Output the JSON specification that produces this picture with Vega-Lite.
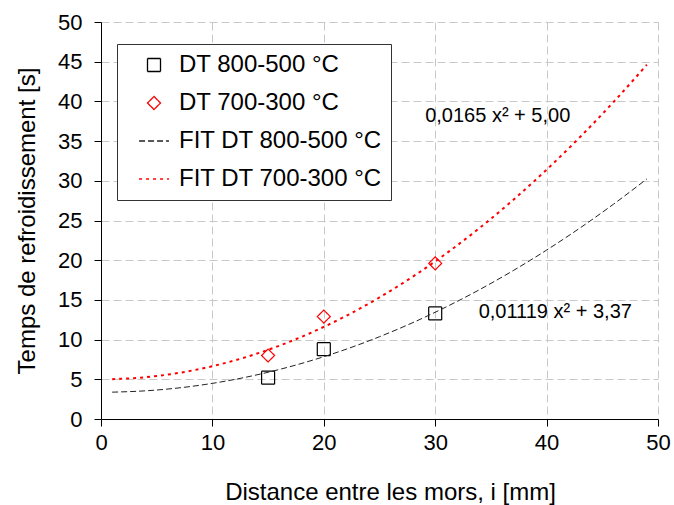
{
  "$schema": "https://vega.github.io/schema/vega-lite/v6.json",
  "width": 557,
  "height": 397,
  "autosize": {"type": "none"},
  "padding": {"left": 101, "top": 22, "right": 16, "bottom": 86},
  "background": "white",
  "config": {
    "font": "Liberation Sans",
    "view": {"stroke": null},
    "axis": {
      "domainColor": "black",
      "domainWidth": 1,
      "tickColor": "black",
      "tickSize": 7,
      "grid": true,
      "gridColor": "#c8c8c8",
      "gridDash": [8, 4],
      "gridWidth": 1,
      "labelFont": "Liberation Sans",
      "labelFontSize": 22,
      "labelColor": "black",
      "labelOverlap": false,
      "titleFont": "Liberation Sans",
      "titleFontSize": 24,
      "titleFontWeight": "normal",
      "titleColor": "black"
    },
    "legend": {
      "labelFont": "Liberation Sans",
      "labelFontSize": 24,
      "labelColor": "black",
      "labelLimit": 400
    }
  },
  "datasets": {
    "meas": [
      {"series": "DT 800-500 °C", "x": 15, "y": 5.2},
      {"series": "DT 800-500 °C", "x": 20, "y": 8.8},
      {"series": "DT 800-500 °C", "x": 30, "y": 13.3},
      {"series": "DT 700-300 °C", "x": 15, "y": 8.0},
      {"series": "DT 700-300 °C", "x": 20, "y": 12.9},
      {"series": "DT 700-300 °C", "x": 30, "y": 19.6}
    ],
    "fit": [
      {"series": "FIT DT 800-500 °C", "x": 1, "y": 3.381},
      {"series": "FIT DT 800-500 °C", "x": 4, "y": 3.549},
      {"series": "FIT DT 800-500 °C", "x": 7, "y": 3.918},
      {"series": "FIT DT 800-500 °C", "x": 10, "y": 4.489},
      {"series": "FIT DT 800-500 °C", "x": 13, "y": 5.261},
      {"series": "FIT DT 800-500 °C", "x": 16, "y": 6.235},
      {"series": "FIT DT 800-500 °C", "x": 19, "y": 7.41},
      {"series": "FIT DT 800-500 °C", "x": 22, "y": 8.786},
      {"series": "FIT DT 800-500 °C", "x": 25, "y": 10.364},
      {"series": "FIT DT 800-500 °C", "x": 28, "y": 12.143},
      {"series": "FIT DT 800-500 °C", "x": 31, "y": 14.124},
      {"series": "FIT DT 800-500 °C", "x": 34, "y": 16.306},
      {"series": "FIT DT 800-500 °C", "x": 37, "y": 18.689},
      {"series": "FIT DT 800-500 °C", "x": 40, "y": 21.274},
      {"series": "FIT DT 800-500 °C", "x": 43, "y": 24.06},
      {"series": "FIT DT 800-500 °C", "x": 46, "y": 27.048},
      {"series": "FIT DT 800-500 °C", "x": 49, "y": 30.237},
      {"series": "FIT DT 700-300 °C", "x": 1, "y": 5.017},
      {"series": "FIT DT 700-300 °C", "x": 4, "y": 5.264},
      {"series": "FIT DT 700-300 °C", "x": 7, "y": 5.809},
      {"series": "FIT DT 700-300 °C", "x": 10, "y": 6.65},
      {"series": "FIT DT 700-300 °C", "x": 13, "y": 7.789},
      {"series": "FIT DT 700-300 °C", "x": 16, "y": 9.224},
      {"series": "FIT DT 700-300 °C", "x": 19, "y": 10.957},
      {"series": "FIT DT 700-300 °C", "x": 22, "y": 12.986},
      {"series": "FIT DT 700-300 °C", "x": 25, "y": 15.313},
      {"series": "FIT DT 700-300 °C", "x": 28, "y": 17.936},
      {"series": "FIT DT 700-300 °C", "x": 31, "y": 20.857},
      {"series": "FIT DT 700-300 °C", "x": 34, "y": 24.074},
      {"series": "FIT DT 700-300 °C", "x": 37, "y": 27.589},
      {"series": "FIT DT 700-300 °C", "x": 40, "y": 31.4},
      {"series": "FIT DT 700-300 °C", "x": 43, "y": 35.509},
      {"series": "FIT DT 700-300 °C", "x": 46, "y": 39.914},
      {"series": "FIT DT 700-300 °C", "x": 49, "y": 44.617}
    ],
    "notes": [
      {"label": "0,0165 x² + 5,00", "x": 29.1, "y": 37.4},
      {"label": "0,01119 x² + 3,37", "x": 33.9, "y": 12.7}
    ]
  },
  "encoding": {
    "x": {
      "field": "x", "type": "quantitative",
      "scale": {"domain": [0, 50], "nice": false, "zero": false},
      "axis": {"tickCount": 5, "title": "Distance entre les mors, i [mm]", "labelPadding": 6, "titleX": 289, "titleY": 80, "titleBaseline": "alphabetic", "labelFlush": false}
    },
    "y": {
      "field": "y", "type": "quantitative",
      "scale": {"domain": [0, 50], "nice": false, "zero": false},
      "axis": {"tickCount": 10, "title": "Temps de refroidissement [s]", "labelPadding": 12, "titlePadding": 18, "labelFlush": false, "labelOverlap": false}
    }
  },
  "layer": [
    {
      "data": {"name": "meas"},
      "mark": {"type": "point", "filled": false, "size": 169, "strokeWidth": 1.2, "opacity": 1},
      "encoding": {
        "color": {
          "field": "series", "type": "nominal",
          "scale": {
            "domain": ["DT 800-500 °C", "DT 700-300 °C", "FIT DT 800-500 °C", "FIT DT 700-300 °C"],
            "range": ["#000000", "#ff0000", "#222222", "#ff0000"]
          },
          "legend": {
            "title": null,
            "orient": "none",
            "legendX": 16,
            "legendY": 22,
            "direction": "vertical",
            "padding": 9,
            "symbolOffset": 16,
            "labelOffset": 13,
            "rowPadding": 14,
            "strokeColor": "#333333",
            "fillColor": "white",
            "symbolFillColor": "transparent",
            "symbolStrokeWidth": 1.3,
            "symbolSize": 169
          }
        },
        "shape": {
          "field": "series", "type": "nominal",
          "scale": {
            "domain": ["DT 800-500 °C", "DT 700-300 °C", "FIT DT 800-500 °C", "FIT DT 700-300 °C"],
            "range": ["square", "diamond", "M-2.3,0H2.3", "M-2.3,0H2.3"]
          }
        },
        "strokeDash": {
          "field": "series", "type": "nominal",
          "scale": {
            "domain": ["DT 800-500 °C", "DT 700-300 °C", "FIT DT 800-500 °C", "FIT DT 700-300 °C"],
            "range": [[1, 0], [1, 0], [6, 3], [3, 4]]
          }
        }
      }
    },
    {
      "data": {"name": "fit"},
      "mark": {"type": "line", "interpolate": "monotone", "clip": false},
      "encoding": {
        "color": {"field": "series", "type": "nominal"},
        "strokeDash": {"field": "series", "type": "nominal"},
        "strokeWidth": {
          "condition": {"test": "datum.series === 'FIT DT 700-300 °C'", "value": 2},
          "value": 1
        }
      }
    },
    {
      "data": {"name": "notes"},
      "mark": {"type": "text", "align": "left", "baseline": "alphabetic", "fontSize": 20, "font": "Liberation Sans", "color": "black"},
      "encoding": {
        "text": {"field": "label"}
      }
    }
  ]
}
